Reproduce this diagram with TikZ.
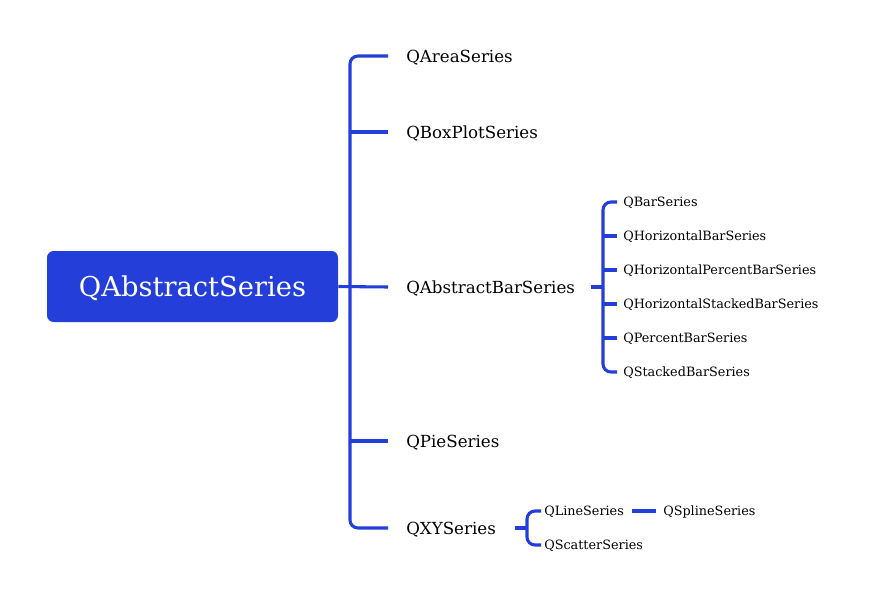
\documentclass[tikz,border=0pt]{standalone}
\usepackage{fontspec}
\setmainfont{DejaVu Serif}
\usetikzlibrary{calc}
\definecolor{qblue}{RGB}{36,62,217}
\begin{document}
\begin{tikzpicture}[x=0.75pt,y=-0.75pt,
  conn/.style={draw=qblue,line width=2.3pt,rounded corners=6pt},
  rootbox/.style={fill=qblue,rounded corners=5pt,minimum width=218.25pt,minimum height=53.25pt,inner sep=0pt,text=white,font=\fontsize{20.5}{24}\selectfont,text height=14.9pt,text depth=0pt},
  lone/.style={anchor=west,inner sep=0pt,font=\fontsize{12.5}{15}\selectfont,text height=9.1pt,text depth=0pt},
  ltwo/.style={anchor=west,inner sep=0pt,font=\fontsize{9.6}{12}\selectfont,text height=7pt,text depth=0pt}]
\useasboundingbox (0,0) rectangle (887,613);
\node[rootbox] (root) at (192.5,286.5) {QAbstractSeries};
% level 1
\node[lone] (area) at (406,56) {QAreaSeries};
\node[lone] (box) at (406,132) {QBoxPlotSeries};
\node[lone] (absbar) at (406,287) {QAbstractBarSeries};
\node[lone] (pie) at (406,441) {QPieSeries};
\node[lone] (xy) at (406,528) {QXYSeries};
% level 2 bars
\node[ltwo] (bar) at (623,202) {QBarSeries};
\node[ltwo] (hbar) at (623,236) {QHorizontalBarSeries};
\node[ltwo] (hpbar) at (623,270) {QHorizontalPercentBarSeries};
\node[ltwo] (hsbar) at (623,304) {QHorizontalStackedBarSeries};
\node[ltwo] (pbar) at (623,338) {QPercentBarSeries};
\node[ltwo] (sbar) at (623,372) {QStackedBarSeries};
% level 2 xy
\node[ltwo] (line) at (544,511) {QLineSeries};
\node[ltwo] (scatter) at (544,545) {QScatterSeries};
\node[ltwo] (spline) at (663,511) {QSplineSeries};
% trunk
\coordinate (tx) at (350,0);
\draw[conn] ($(area.west)+(-18,0)$) -- (area.west -| tx) -- (xy.west -| tx) -- ($(xy.west)+(-18,0)$);
\draw[conn] (root.east) -- ($(absbar.west)+(-18,0)$);
\draw[conn] (box.west -| tx) -- ($(box.west)+(-18,0)$);
\draw[conn] (pie.west -| tx) -- ($(pie.west)+(-18,0)$);
% bar subtree
\coordinate (bx) at (603,0);
\draw[conn] ($(bar.west)+(-6,0)$) -- (bar.west -| bx) -- (sbar.west -| bx) -- ($(sbar.west)+(-6,0)$);
\draw[conn] ($(absbar.west)+(185,0)$) -- (absbar.west -| bx);
\foreach \n in {hbar,hpbar,hsbar,pbar}{
  \draw[conn] (\n.west -| bx) -- ($(\n.west)+(-6,0)$);
}
% xy subtree
\coordinate (xx) at (527,0);
\draw[conn] ($(line.west)+(-3,0)$) -- (line.west -| xx) -- (scatter.west -| xx) -- ($(scatter.west)+(-3,0)$);
\draw[conn] ($(xy.west)+(109,0)$) -- (xy.west -| xx);
\draw[conn] ($(line.east)+(8,0)$) -- ($(spline.west)+(-7,0)$);
\end{tikzpicture}
\end{document}
